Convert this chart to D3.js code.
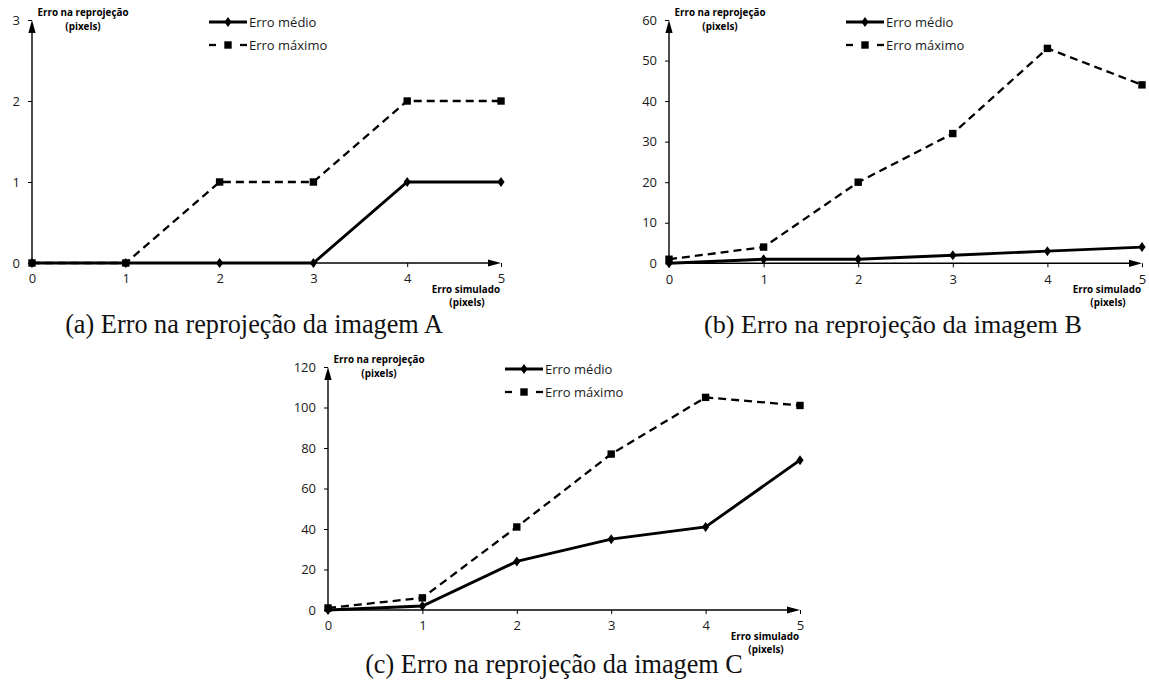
<!DOCTYPE html>
<html><head><meta charset="utf-8">
<script src="https://cdn.jsdelivr.net/npm/d3@7"></script>
<style>body{margin:0;background:#fff}svg{display:block}</style></head>
<body>
<svg id="chart" width="1149" height="693"></svg>
<script>
// ---- data ----
const xValues = [0, 1, 2, 3, 4, 5];
const xTickLabels = ["0", "1", "2", "3", "4", "5"];
const meanA = [0, 0, 0, 0, 1, 1];
const maxA  = [0, 0, 1, 1, 2, 2];
const meanB = [0, 1, 1, 2, 3, 4];
const maxB  = [1, 4, 20, 32, 53, 44];
const meanC = [0, 2, 24, 35, 41, 74];
const maxC  = [1, 6, 41, 77, 105, 101];
const yTicksA = [0, 1, 2, 3];
const yTicksB = [0, 10, 20, 30, 40, 50, 60];
const yTicksC = [0, 20, 40, 60, 80, 100, 120];
const seriesNames = ["Erro médio", "Erro máximo"];
const yTitle = ["Erro na reprojeção", "(pixels)"];
const xTitle = ["Erro simulado", "(pixels)"];
const captions = ["(a) Erro na reprojeção da imagem A", "(b) Erro na reprojeção da imagem B", "(c) Erro na reprojeção da imagem C"];

const svg = d3.select("#chart");
const SANS = "'Open Sans', 'Liberation Sans', sans-serif";

function fitFont(textSel, target) {
  const w = textSel.node().getComputedTextLength();
  const fs = parseFloat(textSel.attr("font-size"));
  textSel.attr("font-size", (fs * target / w).toFixed(2));
}

const diamond = "M0,-5L3.6,0L0,5L-3.6,0Z";
const SQ = 7.4;

function drawPanel(cfg) {
  const x = d3.scaleLinear().domain([0, 5]).range([cfg.x0, cfg.x5]);
  const y = d3.scaleLinear().domain([0, cfg.yMax]).range([cfg.y0, cfg.yTop]);
  const g = svg.append("g");

  // y axis ticks & labels
  const ya = g.append("g").attr("transform", `translate(${cfg.x0},0)`)
    .call(d3.axisLeft(y).tickValues(cfg.yTicks).tickSize(4).tickPadding(8).tickFormat(d3.format("d")));
  ya.select(".domain").remove();
  ya.selectAll(".tick line").attr("stroke", "#000").attr("stroke-width", 1);
  ya.selectAll(".tick text").attr("font-family", SANS).attr("font-size", 13).attr("fill", "#1a1a1a");

  // x axis ticks & labels
  const xa = g.append("g").attr("transform", `translate(0,${cfg.y0})`)
    .call(d3.axisBottom(x).tickValues(xValues).tickSize(4).tickPadding(7).tickFormat((d, i) => xTickLabels[i]));
  xa.select(".domain").remove();
  xa.selectAll(".tick line").attr("stroke", "#000").attr("stroke-width", 1);
  xa.selectAll(".tick text").attr("font-family", SANS).attr("font-size", 13).attr("fill", "#1a1a1a");

  // axis lines with arrows
  g.append("line").attr("x1", cfg.x0).attr("x2", cfg.x0).attr("y1", cfg.y0).attr("y2", cfg.yTop + 6)
    .attr("stroke", "#000").attr("stroke-width", 1.4);
  g.append("path").attr("d", `M${cfg.x0},${cfg.yTop}L${cfg.x0 - 3.6},${cfg.yTop + 13}L${cfg.x0 + 3.6},${cfg.yTop + 13}Z`).attr("fill", "#000");
  g.append("line").attr("x1", cfg.x0).attr("x2", cfg.x5 - 6).attr("y1", cfg.y0).attr("y2", cfg.y0)
    .attr("stroke", "#000").attr("stroke-width", 1.4);
  g.append("path").attr("d", `M${cfg.x5},${cfg.y0}L${cfg.x5 - 13},${cfg.y0 - 3.6}L${cfg.x5 - 13},${cfg.y0 + 3.6}Z`).attr("fill", "#000");

  // axis titles
  const yt1 = g.append("text").attr("x", cfg.x0 + 51).attr("y", cfg.yTop - 4).attr("text-anchor", "middle")
    .attr("font-family", SANS).attr("font-weight", "bold").attr("font-size", 9).text(yTitle[0]);
  fitFont(yt1, 91);
  const fsT = yt1.attr("font-size");
  g.append("text").attr("x", cfg.x0 + 51).attr("y", cfg.yTop + 9.5).attr("text-anchor", "middle")
    .attr("font-family", SANS).attr("font-weight", "bold").attr("font-size", fsT).text(yTitle[1]);
  g.append("text").attr("x", cfg.x5 - 1).attr("y", cfg.y0 + 29.5).attr("text-anchor", "end")
    .attr("font-family", SANS).attr("font-weight", "bold").attr("font-size", fsT).text(xTitle[0]);
  g.append("text").attr("x", cfg.x5 - 34).attr("y", cfg.y0 + 43).attr("text-anchor", "middle")
    .attr("font-family", SANS).attr("font-weight", "bold").attr("font-size", fsT).text(xTitle[1]);

  // series
  const line = d3.line().x((d, i) => x(xValues[i])).y(d => y(d));
  g.append("path").datum(cfg.mean).attr("d", line).attr("fill", "none").attr("stroke", "#000")
    .attr("stroke-width", 2.9).attr("stroke-linejoin", "miter");
  g.append("path").datum(cfg.max).attr("d", line).attr("fill", "none").attr("stroke", "#000")
    .attr("stroke-width", 2.3).attr("stroke-dasharray", "8,5");
  g.selectAll(".dm").data(cfg.mean).join("path").attr("d", diamond)
    .attr("transform", (d, i) => `translate(${x(xValues[i])},${y(d)})`).attr("fill", "#000");
  g.selectAll(".sq").data(cfg.max).join("rect")
    .attr("x", (d, i) => x(xValues[i]) - SQ / 2).attr("y", d => y(d) - SQ / 2)
    .attr("width", SQ).attr("height", SQ).attr("fill", "#000");

  // legend
  const lx = cfg.x0 + 177, ly1 = cfg.yTop + 2, ly2 = cfg.yTop + 25;
  g.append("line").attr("x1", lx).attr("x2", lx + 38).attr("y1", ly1).attr("y2", ly1).attr("stroke", "#000").attr("stroke-width", 2.9);
  g.append("path").attr("d", diamond).attr("transform", `translate(${lx + 19},${ly1})`).attr("fill", "#000");
  g.append("line").attr("x1", lx).attr("x2", lx + 7).attr("y1", ly2).attr("y2", ly2).attr("stroke", "#000").attr("stroke-width", 2.3);
  g.append("line").attr("x1", lx + 31).attr("x2", lx + 38).attr("y1", ly2).attr("y2", ly2).attr("stroke", "#000").attr("stroke-width", 2.3);
  g.append("rect").attr("x", lx + 19 - SQ / 2).attr("y", ly2 - SQ / 2).attr("width", SQ).attr("height", SQ).attr("fill", "#000");
  g.append("text").attr("x", lx + 40).attr("y", ly1 + 4.8).attr("font-family", SANS).attr("font-size", 13).attr("fill", "#1a1a1a").text(seriesNames[0]);
  g.append("text").attr("x", lx + 40).attr("y", ly2 + 4.8).attr("font-family", SANS).attr("font-size", 13).attr("fill", "#1a1a1a").text(seriesNames[1]);

  // caption
  const cap = g.append("text").attr("x", cfg.capX).attr("y", cfg.capY).attr("text-anchor", "middle")
    .attr("font-family", "'Liberation Serif', 'Times New Roman', serif").attr("font-size", 24).attr("fill", "#111").text(cfg.caption);
  fitFont(cap, 378);
}

drawPanel({x0: 32, x5: 501, y0: 263, yTop: 20, yMax: 3, yTicks: yTicksA, mean: meanA, max: maxA, caption: captions[0], capX: 254, capY: 333});
drawPanel({x0: 669, x5: 1142, y0: 263.3, yTop: 20, yMax: 60, yTicks: yTicksB, mean: meanB, max: maxB, caption: captions[1], capX: 893, capY: 333});
drawPanel({x0: 328, x5: 800, y0: 610, yTop: 367, yMax: 120, yTicks: yTicksC, mean: meanC, max: maxC, caption: captions[2], capX: 554, capY: 673});
</script>
</body></html>
